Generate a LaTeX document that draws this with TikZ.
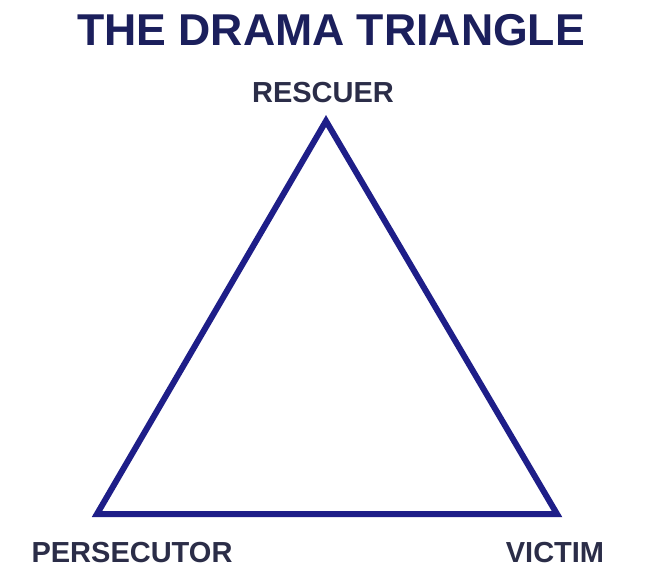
\documentclass[tikz,border=0pt]{standalone}
\usepackage{fontspec}
\setmainfont{Liberation Sans}
\definecolor{titlecol}{HTML}{1B1F5C}
\definecolor{labelcol}{HTML}{2B2D48}
\definecolor{tricol}{HTML}{1E1E88}
\begin{document}
\begin{tikzpicture}[x=1pt,y=-1pt,
  titlestyle/.style={anchor=base,inner sep=0pt,text=titlecol,font=\fontsize{44.6}{50}\selectfont\bfseries},
  rolestyle/.style={anchor=base,inner sep=0pt,text=labelcol,font=\fontsize{29}{34}\selectfont\bfseries},
  triline/.style={draw=tricol,line width=6pt,line join=miter}]
\useasboundingbox[fill=white] (0,0) rectangle (660,584);
\node[titlestyle] (title) at (331,45) {THE DRAMA TRIANGLE};
\node[rolestyle] (rescuer) at (323,102) {RESCUER};
\node[rolestyle] (persecutor) at (132,562) {PERSECUTOR};
\node[rolestyle] (victim) at (555,562) {VICTIM};
\coordinate (R) at (326,121);
\coordinate (P) at (97,514);
\coordinate (V) at (557,514);
\draw[triline] (P) -- (R) -- (V) -- cycle;
\end{tikzpicture}
\end{document}
